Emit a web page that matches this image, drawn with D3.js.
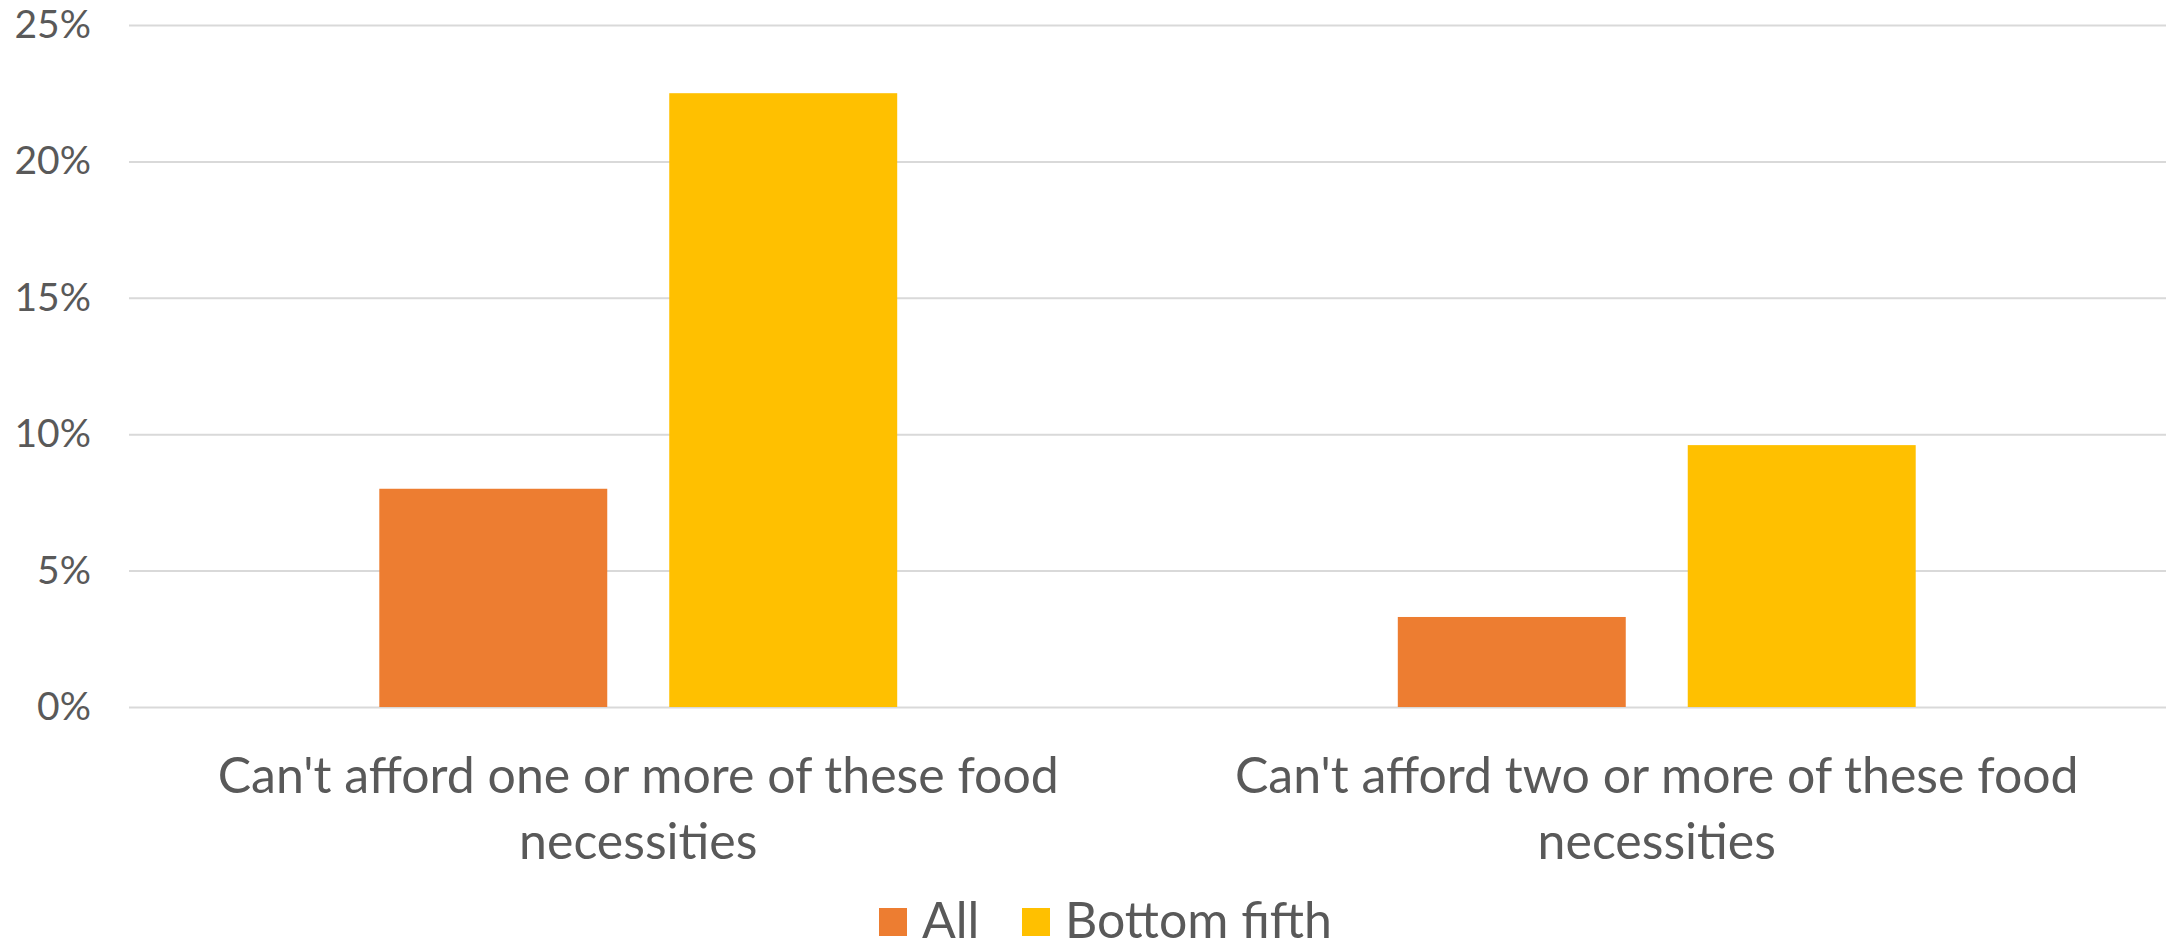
<!DOCTYPE html>
<html>
<head>
<meta charset="utf-8">
<script src="https://cdn.jsdelivr.net/npm/d3@7/dist/d3.min.js"></script>
<style>
  html, body { margin: 0; padding: 0; background: #fff; }
  svg text { font-family: Lato, "Noto Sans", sans-serif; fill: #595959; }
</style>
</head>
<body>
<div id="chart"></div>
<script>
// *** DATA *** //
var categories = ["Can't afford one or more of these food necessities", "Can't afford two or more of these food necessities"];
var series_names = ["All", "Bottom fifth"];
var all_values = [8.0, 3.3];
var bottom_fifth_values = [22.5, 9.6];
var y_ticks = [0, 5, 10, 15, 20, 25];
var series_colors = ["#ED7D31", "#FFC000"];
// ************ //

var width = 2170;
var height = 949;
var margin = { top: 25, right: 4, bottom: 242, left: 129 };
var plot_width = width - margin.left - margin.right;
var plot_height = height - margin.top - margin.bottom;

var tick_font_size = 39;
var label_font_size = 50;

var svg = d3.select("#chart").append("svg")
    .attr("width", width)
    .attr("height", height);

var g = svg.append("g")
    .attr("transform", "translate(" + margin.left + "," + margin.top + ")");

var rows = categories.map(function(c, i) {
  return { category: c, values: [all_values[i], bottom_fifth_values[i]] };
});

// *** SCALES *** //
var x0 = d3.scaleBand().domain(categories).range([0, plot_width]).padding(0);
var group_width = x0.bandwidth() * 0.5085;
var x1 = d3.scaleBand().domain(d3.range(series_names.length))
    .range([(x0.bandwidth() - group_width) / 2, (x0.bandwidth() + group_width) / 2])
    .paddingInner(0.2138);
var y = d3.scaleLinear().domain([0, 25]).range([plot_height, 0]);

// gridlines + y labels
var y_axis = d3.axisLeft(y).tickValues(y_ticks).tickSize(-plot_width).tickPadding(38)
    .tickFormat(function(d) { return d + "%"; });
var y_axis_g = g.append("g").call(y_axis);
y_axis_g.select(".domain").remove();
y_axis_g.selectAll(".tick line").attr("stroke", "#d9d9d9").attr("stroke-width", 2);
y_axis_g.selectAll(".tick text")
    .attr("font-size", tick_font_size)
    .attr("fill", "#595959")
    .attr("dy", "0.32em");

// bars
var groups = g.selectAll(".group").data(rows).enter().append("g")
    .attr("class", "group")
    .attr("transform", function(d) { return "translate(" + x0(d.category) + ",0)"; });

groups.selectAll("rect").data(function(d) { return d.values; }).enter().append("rect")
    .attr("x", function(d, i) { return x1(i); })
    .attr("y", function(d) { return y(d); })
    .attr("width", x1.bandwidth())
    .attr("height", function(d) { return plot_height - y(d); })
    .attr("fill", function(d, i) { return series_colors[i]; });

// category labels, wrapped to the band width
var wrap = function(text, max_width) {
  text.each(function() {
    var t = d3.select(this);
    var words = t.text().split(/\s+/);
    var line = [];
    var tspan = t.text(null).append("tspan").attr("x", 0).attr("dy", 0);
    for (var i = 0; i < words.length; i++) {
      line.push(words[i]);
      tspan.text(line.join(" "));
      if (tspan.node().getComputedTextLength() > max_width && line.length > 1) {
        line.pop();
        tspan.text(line.join(" "));
        line = [words[i]];
        tspan = t.append("tspan").attr("x", 0).attr("dy", 66).text(words[i]);
      }
    }
  });
};

var x_axis = d3.axisBottom(x0).tickSize(0).tickPadding(0);
var x_axis_g = g.append("g").attr("transform", "translate(0," + plot_height + ")").call(x_axis);
x_axis_g.select(".domain").remove();
x_axis_g.selectAll(".tick text")
    .attr("font-size", label_font_size)
    .attr("fill", "#595959")
    .attr("y", 86)
    .attr("dy", 0)
    .call(wrap, x0.bandwidth() * 0.92);

// legend
var legend_x = [879, 1022];
var legend = svg.append("g").attr("transform", "translate(0,908)");
series_names.forEach(function(name, i) {
  legend.append("rect")
      .attr("x", legend_x[i])
      .attr("y", 0)
      .attr("width", 28)
      .attr("height", 28)
      .attr("fill", series_colors[i]);
  legend.append("text")
      .attr("x", legend_x[i] + 43)
      .attr("y", 30)
      .attr("font-size", label_font_size)
      .text(name);
});
</script>
</body>
</html>
